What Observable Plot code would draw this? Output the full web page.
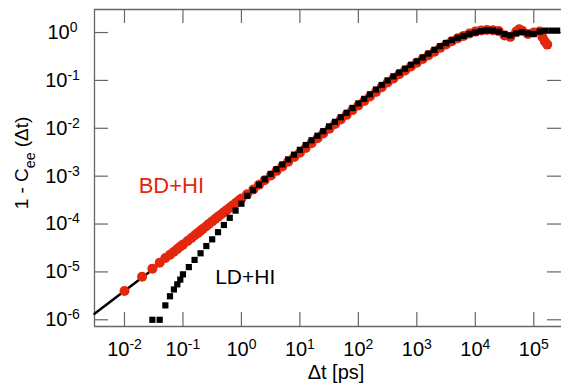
<!DOCTYPE html>
<html><head><meta charset="utf-8">
<script src="https://cdn.jsdelivr.net/npm/d3@7"></script>
<script src="https://cdn.jsdelivr.net/npm/@observablehq/plot@0.6"></script>
<style>body{margin:0;background:#fff} svg{display:block}</style>
</head><body><div id="chart"></div>
<script>
// BD+HI (red circles)
const bdX = [0.01,0.02,0.03,0.04,0.05,0.06,0.07,0.08,0.09,0.1,
  0.12,0.14,0.16,0.18,0.2,0.22,0.25,0.28,0.32,0.36,0.4,0.45,0.5,0.56,0.63,0.71,0.8,0.9,1,
  1.25,1.6,2,2.5,3.2,4,5,6.3,8,10,
  12.6,15.8,20,25,32,40,50,63,79,100,
  126,158,200,251,316,398,501,631,794,1000,
  1260,1580,2000,2510,3160,3980,5010,6310,7940,1e4,
  1.26e4,1.58e4,2e4,2.51e4,3.16e4,3.98e4,5.01e4,5.62e4,6.31e4,7.94e4,1e5,
  1.26e5,1.41e5,1.55e5,1.7e5];
const bdY = [4.0e-6,7.9e-6,1.17e-5,1.55e-5,1.95e-5,2.29e-5,2.63e-5,3.02e-5,3.39e-5,3.72e-5,
  4.42e-5,5.13e-5,5.82e-5,6.53e-5,7.24e-5,7.94e-5,9.0e-5,1.01e-4,1.15e-4,1.29e-4,1.43e-4,1.58e-4,1.76e-4,1.95e-4,2.19e-4,2.45e-4,2.75e-4,3.09e-4,3.43e-4,
  4.17e-4,5.25e-4,6.61e-4,8.22e-4,1.035e-3,1.29e-3,1.60e-3,2.0e-3,2.51e-3,3.09e-3,
  3.89e-3,4.9e-3,6.17e-3,7.76e-3,9.77e-3,1.23e-2,1.53e-2,1.91e-2,2.40e-2,2.99e-2,
  3.72e-2,4.62e-2,5.75e-2,7.24e-2,9.02e-2,0.110,0.135,0.162,0.195,0.234,
  0.279,0.335,0.398,0.479,0.562,0.661,0.759,0.851,0.955,1.047,
  1.109,1.135,1.122,1.072,0.871,0.813,1.047,1.175,1.096,0.933,1.0,
  1.05,0.80,0.65,0.56];

// LD+HI (black squares)
const ldX = [0.03,0.04,0.05,0.06,0.07,0.08,0.09,
  0.1,0.126,0.158,0.2,0.251,0.316,0.398,0.501,0.631,0.794,
  1,1.26,1.58,2,2.51,3.16,3.98,5.01,6.31,7.94,
  10,12.6,15.8,20,25.1,31.6,39.8,50.1,63.1,79.4,
  100,126,158,200,251,316,398,501,631,794,
  1000,1260,1580,2000,2510,3160,3980,5010,6310,7940,
  1e4,1.26e4,1.58e4,2e4,2.51e4,3.16e4,3.98e4,5.01e4,6.31e4,7.94e4,
  1e5,1.26e5,1.58e5,2e5,2.51e5];
const ldY = [1.0e-6,1.0e-6,2.0e-6,3.1e-6,4.3e-6,5.5e-6,6.9e-6,
  8.9e-6,1.26e-5,1.78e-5,2.45e-5,3.47e-5,4.79e-5,6.76e-5,9.55e-5,1.35e-4,1.91e-4,
  2.66e-4,3.89e-4,5.13e-4,6.61e-4,8.61e-4,1.109e-3,1.396e-3,1.758e-3,2.24e-3,2.82e-3,
  3.55e-3,4.47e-3,5.62e-3,7.0e-3,8.71e-3,1.096e-2,1.365e-2,1.70e-2,2.11e-2,2.66e-2,
  3.31e-2,4.12e-2,5.13e-2,6.46e-2,8.04e-2,0.100,0.1216,0.146,0.1758,0.2113,
  0.251,0.302,0.363,0.437,0.519,0.603,0.692,0.776,0.851,0.933,
  1.0,1.072,1.109,1.096,1.047,0.933,0.871,0.955,1.023,0.955,
  0.933,1.047,1.096,1.096,1.096];

// short-time power-law line (black)
const fitX = [0.00307, 0.1];
const fitY = [1.33e-6, 3.4e-5];

const xTicks = [1e-2,1e-1,1e0,1e1,1e2,1e3,1e4,1e5];
const yTicks = [1e-6,1e-5,1e-4,1e-3,1e-2,1e-1,1e0];
const xDomain = [0.00307, 2.98e5];
const yDomain = [7.24e-7, 3.03];

const labelBD = [{text: "BD+HI", x: 0.01746, y: 6.12e-4}];
const labelLD = [{text: "LD+HI", x: 0.355, y: 7.8e-6}];

const RED = "#e3270d";
const GRAY = "#666";

const bd = bdX.map((x, i) => ({x, y: bdY[i]}));
const ld = ldX.map((x, i) => ({x, y: ldY[i]}));
const fit = fitX.map((x, i) => ({x, y: fitY[i]}));

const W = 561, H = 387, mT = 9, mB = 61, mL = 94, mR = 0;
const innerH = H - mT - mB;
const TL = 14;

const svg = Plot.plot({
  width: W, height: H,
  marginTop: mT, marginBottom: mB, marginLeft: mL, marginRight: mR,
  style: {fontFamily: "'Liberation Sans', Arial, Helvetica, sans-serif", background: "white", color: "black"},
  x: {type: "log", domain: xDomain},
  y: {type: "log", domain: yDomain},
  marks: [
    // frame (left, top, bottom)
    Plot.ruleX([xDomain[0]], {stroke: GRAY, strokeWidth: 1.3}),
    Plot.ruleY([yDomain[0]], {stroke: GRAY, strokeWidth: 1.3}),
    Plot.ruleY([yDomain[1]], {stroke: GRAY, strokeWidth: 1.3}),
    // inward ticks
    Plot.ruleX(xTicks, {x: d => d, stroke: GRAY, strokeWidth: 1.2, insetTop: innerH - TL}),
    Plot.ruleX(xTicks, {x: d => d, stroke: GRAY, strokeWidth: 1.2, insetBottom: innerH - TL}),
    Plot.ruleY(yTicks, {y: d => d, stroke: GRAY, strokeWidth: 1.2, insetRight: (W - mL - mR) - TL}),
    Plot.ruleY(yTicks, {y: d => d, stroke: GRAY, strokeWidth: 1.2, insetLeft: (W - mL - mR) - TL}),
    // tick labels
    Plot.axisX(xTicks, {tickSize: 0, tickPadding: 15, fontSize: 20, label: null,
      tickFormat: d => "10^" + Math.round(Math.log10(d))}),
    Plot.axisY(yTicks, {tickSize: 0, tickPadding: 32, fontSize: 20, label: null, textAnchor: "middle",
      tickFormat: d => "10^" + Math.round(Math.log10(d))}),
    // axis titles
    Plot.text(["Δt [ps]"], {text: d => d, frameAnchor: "bottom", dx: 8, dy: 52, fontSize: 20, fill: "black"}),
    Plot.text(["1 - C_ee (Δt)"], {text: d => d, frameAnchor: "left", rotate: -90, fontSize: 19, fill: "black"}),
    // data
    Plot.line(fit, {x: "x", y: "y", stroke: "black", strokeWidth: 2.5}),
    Plot.dot(bd, {x: "x", y: "y", r: 5, fill: RED, stroke: null}),
    Plot.dot(ld, {x: "x", y: "y", r: 3.5, symbol: "square", fill: "black", stroke: null}),
    // annotations
    Plot.text(labelBD, {x: "x", y: "y", text: "text", textAnchor: "start", fontSize: 22, fill: RED}),
    Plot.text(labelLD, {x: "x", y: "y", text: "text", textAnchor: "start", fontSize: 21, fill: "black"})
  ]
});

const NS = "http://www.w3.org/2000/svg";
svg.querySelectorAll("text").forEach(t => {
  const s = t.textContent;
  if (s.includes("^")) {
    const [b, e] = s.split("^");
    t.textContent = b;
    const sup = document.createElementNS(NS, "tspan");
    sup.setAttribute("dy", "-7");
    sup.setAttribute("font-size", "14");
    sup.textContent = e;
    t.appendChild(sup);
  } else if (s.includes("_ee")) {
    const g = t.parentNode;
    g.removeAttribute("transform");
    t.setAttribute("transform", "translate(22,163) rotate(-90)");
    t.setAttribute("text-anchor", "middle");
    t.removeAttribute("dx");
    t.removeAttribute("x");
    t.removeAttribute("y");
    t.setAttribute("dy", "0.32em");
    t.textContent = "1 - C";
    const sub = document.createElementNS(NS, "tspan");
    sub.setAttribute("dy", "7");
    sub.setAttribute("font-size", "14");
    sub.textContent = "ee";
    t.appendChild(sub);
    const rest = document.createElementNS(NS, "tspan");
    rest.setAttribute("dy", "-7");
    rest.setAttribute("font-size", "19");
    rest.textContent = " (Δt)";
    t.appendChild(rest);
  }
});

document.getElementById("chart").appendChild(svg);
</script>
</body></html>
